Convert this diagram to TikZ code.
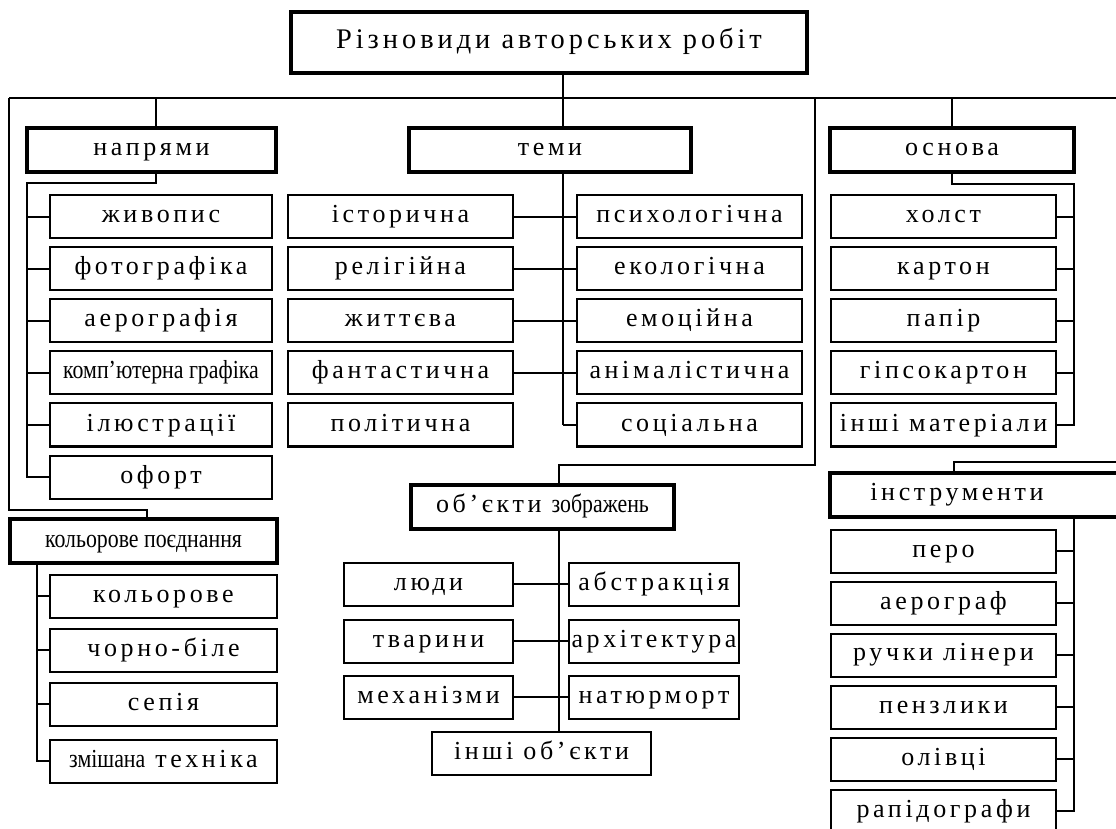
\documentclass[tikz,border=0pt]{standalone}
\usepackage{fontspec}
\setmainfont{Liberation Serif}
\newfontfamily\widefont{Liberation Serif}[LetterSpace=14]
\newfontfamily\tightfont{Liberation Serif}[FakeStretch=0.84]
\begin{document}
\begin{tikzpicture}[x=0.5pt,y=-0.5pt,
		headbox/.style={draw,line width=2pt,inner sep=0pt,minimum height=22pt},
		itembox/.style={draw,line width=1pt,inner sep=0pt,minimum height=21.5pt,minimum width=112.5pt},
		link/.style={line width=1pt},
		every node/.style={font=\widefont\fontsize{13}{15}\selectfont,text height=9pt,text depth=3pt}]
			\useasboundingbox (0,0) rectangle (1116,829);
			\fill[white] (0,0) rectangle (1116,829);
			\clip (0,0) rectangle (1116,829);
			
			\node[headbox,minimum width=258pt,minimum height=30.5pt,font=\widefont\fontsize{14.2}{16}\selectfont] (main) at (549,42.5) {Різновиди авторських робіт};
			\node[headbox,minimum width=124.5pt] (napr) at (151.5,150) {напрями};
			\node[headbox,minimum width=141pt] (temy) at (550,150) {теми};
			\node[headbox,minimum width=122pt] (osn) at (952,150) {основа};
			\node[headbox,minimum width=131.5pt] (obj) at (542.5,506.5) {об’єкти {\tightfont зображень}};
			\node[headbox,minimum width=147pt] (inst) at (977,495) {\hspace*{-20pt}інструменти};
			\node[headbox,minimum width=133.5pt] (kolir) at (143.5,541) {\tightfont кольорове поєднання};
			
			\node[itembox,minimum width=111pt] (n1) at (161,217) {живопис};
			\node[itembox,minimum width=111pt] (n2) at (161,269) {фотографіка};
			\node[itembox,minimum width=111pt] (n3) at (161,321) {аерографія};
			\node[itembox,minimum width=111pt] (n4) at (161,373) {\tightfont комп’ютерна графіка};
			\node[itembox,minimum width=111pt] (n5) at (161,425) {ілюстрації};
			\node[itembox,minimum width=111pt] (n6) at (161,477) {офорт};
			
			\node[itembox] (t1) at (400.5,217) {історична};
			\node[itembox] (t2) at (400.5,269) {релігійна};
			\node[itembox] (t3) at (400.5,321) {життєва};
			\node[itembox] (t4) at (400.5,373) {фантастична};
			\node[itembox] (t5) at (400.5,425) {політична};
			\node[itembox] (t6) at (689.5,217) {психологічна};
			\node[itembox] (t7) at (689.5,269) {екологічна};
			\node[itembox] (t8) at (689.5,321) {емоційна};
			\node[itembox] (t9) at (689.5,373) {анімалістична};
			\node[itembox] (t10) at (689.5,425) {соціальна};
			
			\node[itembox] (o1) at (943.5,217) {холст};
			\node[itembox] (o2) at (943.5,269) {картон};
			\node[itembox] (o3) at (943.5,321) {папір};
			\node[itembox] (o4) at (943.5,373) {гіпсокартон};
			\node[itembox] (o5) at (943.5,425) {інші матеріали};
			
			\node[itembox,minimum width=84.5pt] (b1) at (428.5,584) {люди};
			\node[itembox,minimum width=84.5pt] (b2) at (428.5,641) {тварини};
			\node[itembox,minimum width=84.5pt] (b3) at (428.5,697) {механізми};
			\node[itembox,minimum width=85pt] (b4) at (654,584) {абстракція};
			\node[itembox,minimum width=85pt] (b5) at (654,641) {архітектура};
			\node[itembox,minimum width=85pt] (b6) at (654,697) {натюрморт};
			\node[itembox,minimum width=109.5pt] (b7) at (541.5,753.5) {інші об’єкти};
			
			\node[itembox] (i1) at (943.5,551) {перо};
			\node[itembox] (i2) at (943.5,603) {аерограф};
			\node[itembox] (i3) at (943.5,655) {ручки лінери};
			\node[itembox] (i4) at (943.5,707) {пензлики};
			\node[itembox] (i5) at (943.5,759) {олівці};
			\node[itembox] (i6) at (943.5,811) {рапідографи};
			
			\node[itembox,minimum width=113.5pt] (k1) at (163.5,596) {кольорове};
			\node[itembox,minimum width=113.5pt] (k2) at (163.5,650) {чорно-біле};
			\node[itembox,minimum width=113.5pt] (k3) at (163.5,704) {сепія};
			\node[itembox,minimum width=113.5pt] (k4) at (163.5,761) {{\tightfont змішана} техніка};
			
			% top bus
			\coordinate (busW) at (9,98);
			\coordinate (busE) at (1122,98);
			\coordinate (bus) at (563,98);
			\coordinate (naprStem) at (156,98);
			\coordinate (leftDrop) at (147,510);
			\coordinate (objBend) at (815,465);
			\coordinate (objStem) at (559,465);
			\coordinate (instBend) at (954,462);
			\draw[link] (busW) -- (busE);
			\draw[link] (main.south -| bus) -- (temy.north -| bus);
			\draw[link] (naprStem) -- (naprStem |- napr.north);
			\draw[link] (osn.north) -- (osn.north |- busE);
			\draw[link] (busW) |- (leftDrop) -- (leftDrop |- kolir.north);
			\draw[link] (objBend |- busE) -- (objBend) -- (objStem) -- (objStem |- obj.north);
			\draw[link] (busE) |- (instBend) -- (instBend |- inst.north);
			
			% branches
			\coordinate (naprRail) at (27,183);
			\coordinate (osnRail) at (1074,184);
			\coordinate (kolRail) at (37,563);
			\draw[link] (napr.south -| naprStem) |- (naprRail) |- (n6.west);
			\foreach \i in {1,...,5} \draw[link] (n\i.west) -- (n\i.west -| naprRail);
			\draw[link] (temy.south -| bus) -- (bus |- t5.east);
			\foreach \i in {1,...,4} \draw[link] (t\i.east) -- (t\i.east -| bus);
			\foreach \i in {6,...,10} \draw[link] (t\i.west) -- (t\i.west -| bus);
			\draw[link] (osn.south) |- (osnRail) |- (o5.east);
			\foreach \i in {1,...,4} \draw[link] (o\i.east) -- (o\i.east -| osnRail);
			\draw[link] (obj.south -| objStem) -- (objStem |- b7.north);
			\foreach \i in {1,2,3} \draw[link] (b\i.east) -- (b\i.east -| objStem);
			\foreach \i in {4,5,6} \draw[link] (b\i.west) -- (b\i.west -| objStem);
			\draw[link] (inst.south -| osnRail) |- (i6.east);
			\foreach \i in {1,...,5} \draw[link] (i\i.east) -- (i\i.east -| osnRail);
			\draw[link] (kolir.south -| kolRail) |- (k4.west);
			\foreach \i in {1,2,3} \draw[link] (k\i.west) -- (k\i.west -| kolRail);
			
			\end{tikzpicture}
\end{document}
